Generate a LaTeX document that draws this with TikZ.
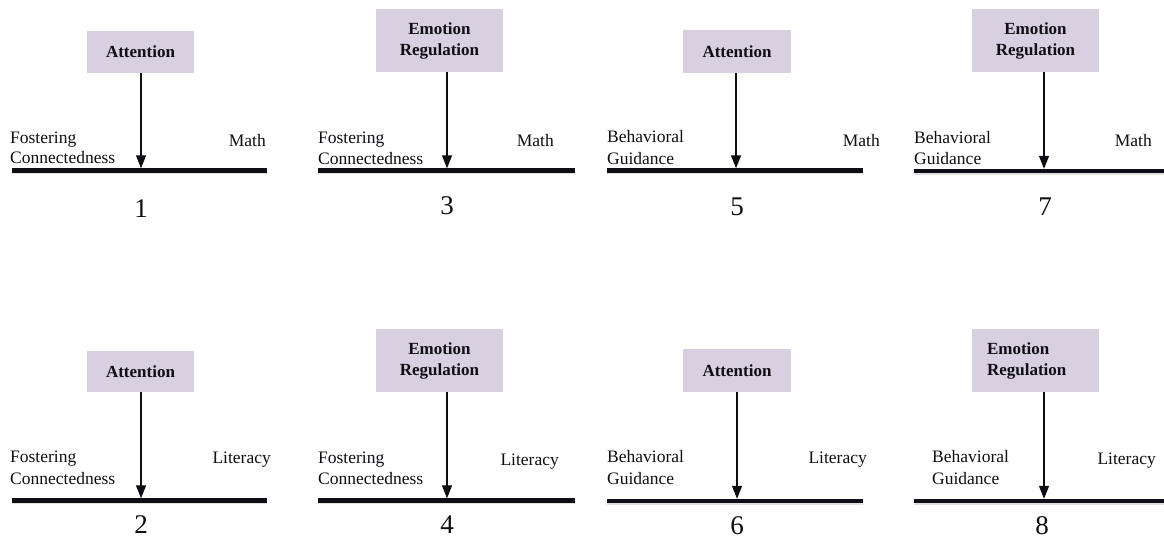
\documentclass[tikz,border=0pt]{standalone}
\usepackage{fontspec}
\setmainfont{Liberation Serif}
\usetikzlibrary{arrows.meta}
\definecolor{boxfill}{RGB}{216,208,225}
\definecolor{ink}{RGB}{14,14,20}
\tikzset{
  cbox/.style={fill=boxfill, draw=none, inner sep=0pt, align=center, text=ink,
    font=\fontsize{17}{21}\selectfont\bfseries},
  lbl/.style={inner sep=0pt, text=ink, font=\fontsize{17.5}{21}\selectfont, align=left},
  num/.style={inner sep=0pt, text=ink, font=\fontsize{27}{30}\selectfont},
  baseline/.style={line width=4.5pt, ink},
  shadowline/.style={line width=2.5pt, black!12},
  darrow/.style={line width=1.3pt, ink, -{Triangle[width=10pt,length=13pt]}}
}
\begin{document}
\begin{tikzpicture}[x=1pt,y=-1pt]
\useasboundingbox (0,0) rectangle (1164,538);

% ---------- Panel 1 ----------
\node[cbox, minimum width=107pt, minimum height=42pt] (b1) at (140.5,52) {Attention};
\coordinate (l1a) at (12,170.5); \coordinate (l1b) at (267,170.5);
\coordinate (t1) at (141,168.3);
\draw[shadowline] ([yshift=-2.5pt]l1a) -- ([yshift=-2.5pt]l1b);
\draw[baseline] (l1a) -- (l1b);
\draw[darrow] (b1.south -| t1) -- (t1);
\node[lbl, anchor=base west] (f1) at (10,143) {Fostering};
\node[lbl, anchor=base west] (c1) at (10,163) {Connectedness};
\node[lbl, anchor=base east] (m1) at (266,146) {Math};
\node[num, anchor=base] (n1) at (141,217) {1};

% ---------- Panel 3 ----------
\node[cbox, minimum width=127pt, minimum height=63pt] (b3) at (439.5,40.5) {Emotion\\Regulation};
\coordinate (l3a) at (318,170.5); \coordinate (l3b) at (575,170.5);
\coordinate (t3) at (447,168.3);
\draw[shadowline] ([yshift=-2.5pt]l3a) -- ([yshift=-2.5pt]l3b);
\draw[baseline] (l3a) -- (l3b);
\draw[darrow] (b3.south -| t3) -- (t3);
\node[lbl, anchor=base west] (f3) at (318,143) {Fostering};
\node[lbl, anchor=base west] (c3) at (318,164) {Connectedness};
\node[lbl, anchor=base east] (m3) at (554,146) {Math};
\node[num, anchor=base] (n3) at (447,214) {3};

% ---------- Panel 5 ----------
\node[cbox, minimum width=108pt, minimum height=43pt] (b5) at (737,51.5) {Attention};
\coordinate (l5a) at (607,170.5); \coordinate (l5b) at (863,170.5);
\coordinate (t5) at (736,168.3);
\draw[shadowline] ([yshift=-2.5pt]l5a) -- ([yshift=-2.5pt]l5b);
\draw[baseline] (l5a) -- (l5b);
\draw[darrow] (b5.south -| t5) -- (t5);
\node[lbl, anchor=base west] (f5) at (607,142) {Behavioral};
\node[lbl, anchor=base west] (c5) at (607,164) {Guidance};
\node[lbl, anchor=base east] (m5) at (880,146) {Math};
\node[num, anchor=base] (n5) at (737,215) {5};

% ---------- Panel 7 ----------
\node[cbox, minimum width=127pt, minimum height=63pt] (b7) at (1035.5,40.5) {Emotion\\Regulation};
\coordinate (l7a) at (914,171); \coordinate (l7b) at (1164,171);
\coordinate (t7) at (1044,168.8);
\draw[shadowline] ([yshift=-2.5pt]l7a) -- ([yshift=-2.5pt]l7b);
\draw[baseline] (l7a) -- (l7b);
\draw[darrow] (b7.south -| t7) -- (t7);
\node[lbl, anchor=base west] (f7) at (914,143) {Behavioral};
\node[lbl, anchor=base west] (c7) at (914,164) {Guidance};
\node[lbl, anchor=base east] (m7) at (1152,146) {Math};
\node[num, anchor=base] (n7) at (1045,215) {7};

% ---------- Panel 2 ----------
\node[cbox, minimum width=107pt, minimum height=41pt] (b2) at (140.5,371.5) {Attention};
\coordinate (l2a) at (12,500.5); \coordinate (l2b) at (267,500.5);
\coordinate (t2) at (141,498.3);
\draw[shadowline] ([yshift=-2.5pt]l2a) -- ([yshift=-2.5pt]l2b);
\draw[baseline] (l2a) -- (l2b);
\draw[darrow] (b2.south -| t2) -- (t2);
\node[lbl, anchor=base west] (f2) at (10,462) {Fostering};
\node[lbl, anchor=base west] (c2) at (10,484) {Connectedness};
\node[lbl, anchor=base east] (m2) at (271,463) {Literacy};
\node[num, anchor=base] (n2) at (141,533) {2};

% ---------- Panel 4 ----------
\node[cbox, minimum width=127pt, minimum height=63pt] (b4) at (439.5,360.5) {Emotion\\Regulation};
\coordinate (l4a) at (318,500.5); \coordinate (l4b) at (575,500.5);
\coordinate (t4) at (447,498.3);
\draw[shadowline] ([yshift=-2.5pt]l4a) -- ([yshift=-2.5pt]l4b);
\draw[baseline] (l4a) -- (l4b);
\draw[darrow] (b4.south -| t4) -- (t4);
\node[lbl, anchor=base west] (f4) at (318,463) {Fostering};
\node[lbl, anchor=base west] (c4) at (318,484) {Connectedness};
\node[lbl, anchor=base east] (m4) at (559,465) {Literacy};
\node[num, anchor=base] (n4) at (447,533) {4};

% ---------- Panel 6 ----------
\node[cbox, minimum width=108pt, minimum height=43pt] (b6) at (737,370.5) {Attention};
\coordinate (l6a) at (607,501); \coordinate (l6b) at (863,501);
\coordinate (t6) at (737,498.8);
\draw[shadowline] ([yshift=-2.5pt]l6a) -- ([yshift=-2.5pt]l6b);
\draw[baseline] (l6a) -- (l6b);
\draw[darrow] (b6.south -| t6) -- (t6);
\node[lbl, anchor=base west] (f6) at (607,462) {Behavioral};
\node[lbl, anchor=base west] (c6) at (607,484) {Guidance};
\node[lbl, anchor=base east] (m6) at (867,463) {Literacy};
\node[num, anchor=base] (n6) at (737,534) {6};

% ---------- Panel 8 ----------
\node[cbox, align=left, text width=97pt, inner xsep=15pt, minimum height=63pt] (b8) at (1035.5,360.5) {Emotion\\Regulation};
\coordinate (l8a) at (914,501); \coordinate (l8b) at (1164,501);
\coordinate (t8) at (1044,498.8);
\draw[shadowline] ([yshift=-2.5pt]l8a) -- ([yshift=-2.5pt]l8b);
\draw[baseline] (l8a) -- (l8b);
\draw[darrow] (b8.south -| t8) -- (t8);
\node[lbl, anchor=base west] (f8) at (932,462) {Behavioral};
\node[lbl, anchor=base west] (c8) at (932,484) {Guidance};
\node[lbl, anchor=base east] (m8) at (1156,464) {Literacy};
\node[num, anchor=base] (n8) at (1042,534) {8};
\end{tikzpicture}
\end{document}
